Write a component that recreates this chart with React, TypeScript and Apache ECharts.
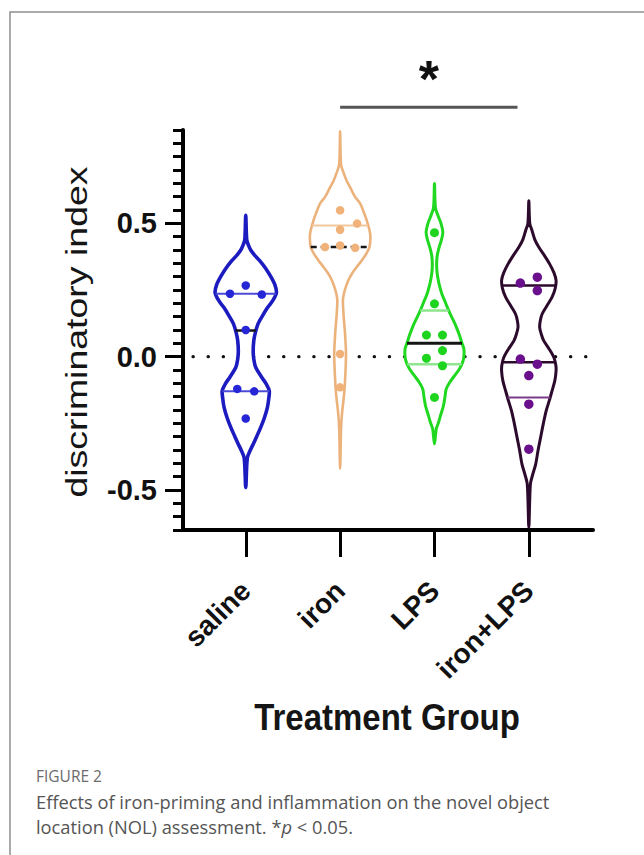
import React, { useEffect, useRef } from "react";
import * as echarts from "echarts";

// ---------------- data ----------------
const categories = ["saline", "iron", "LPS", "iron+LPS"];

// individual animals (discriminatory index) and their horizontal jitter (category units)
const salineValues = [0.267, 0.236, 0.233, 0.1, -0.121, -0.13, -0.232];
const salineJitter = [0, -0.167, 0.17, 0, -0.09, 0.09, 0];
const ironValues = [0.549, 0.499, 0.476, 0.417, 0.411, 0.408, 0.01, -0.115];
const ironJitter = [0, 0.18, 0, 0, -0.16, 0.16, 0, 0];
const lpsValues = [0.465, 0.198, 0.081, 0.081, 0.023, -0.006, -0.034, -0.153];
const lpsJitter = [0, 0, -0.085, 0.085, 0.085, -0.085, 0.085, 0];
const ironLpsValues = [0.298, 0.276, 0.248, -0.009, -0.028, -0.071, -0.178, -0.347];
const ironLpsJitter = [0.09, -0.09, 0.09, -0.09, 0.09, 0, 0, 0];

// quartiles drawn in each violin: [Q1, median, Q3] (null = not visible)
const salineQuartiles = [-0.13, 0.098, 0.236];
const ironQuartiles = [null, 0.411, 0.492];
const lpsQuartiles = [-0.028, 0.05, 0.173];
const ironLpsQuartiles = [-0.153, -0.021, 0.267];

// violin outlines: value levels and relative density (half width, 1 = widest)
const salineProfileY = [0.53, 0.44, 0.42, 0.4, 0.38, 0.36, 0.33, 0.3, 0.27, 0.24, 0.21, 0.185, 0.155, 0.124, 0.09, 0.06, 0.02, -0.01, -0.04, -0.078, -0.1, -0.128, -0.16, -0.19, -0.23, -0.266, -0.3, -0.328, -0.35, -0.38, -0.49];
const salineProfileW = [0, 0.03, 0.08, 0.16, 0.29, 0.45, 0.65, 0.81, 0.94, 0.99, 0.87, 0.71, 0.55, 0.4, 0.31, 0.26, 0.24, 0.26, 0.32, 0.52, 0.65, 0.76, 0.74, 0.7, 0.6, 0.48, 0.35, 0.24, 0.15, 0.05, 0];
const ironProfileY = [0.845, 0.72, 0.69, 0.66, 0.636, 0.6, 0.574, 0.54, 0.511, 0.461, 0.411, 0.385, 0.361, 0.335, 0.311, 0.285, 0.26, 0.235, 0.21, 0.16, 0.085, 0.01, -0.065, -0.14, -0.215, -0.27, -0.42];
const ironProfileW = [0, 0.03, 0.11, 0.21, 0.32, 0.48, 0.65, 0.77, 0.86, 0.97, 0.95, 0.84, 0.7, 0.53, 0.38, 0.26, 0.18, 0.12, 0.09, 0.11, 0.16, 0.19, 0.17, 0.13, 0.06, 0.03, 0];
const lpsProfileY = [0.649, 0.56, 0.53, 0.5, 0.467, 0.44, 0.41, 0.38, 0.35, 0.32, 0.295, 0.267, 0.235, 0.204, 0.17, 0.141, 0.11, 0.079, 0.05, 0.029, 0.0, -0.021, -0.045, -0.071, -0.095, -0.121, -0.15, -0.184, -0.215, -0.247, -0.27, -0.3, -0.327];
const lpsProfileW = [0, 0.03, 0.11, 0.21, 0.27, 0.23, 0.15, 0.09, 0.07, 0.08, 0.11, 0.16, 0.24, 0.35, 0.47, 0.59, 0.71, 0.81, 0.89, 0.95, 0.95, 0.91, 0.81, 0.65, 0.5, 0.38, 0.34, 0.29, 0.21, 0.13, 0.06, 0.03, 0];
const ironLpsProfileY = [0.585, 0.5, 0.474, 0.44, 0.411, 0.38, 0.348, 0.315, 0.286, 0.255, 0.223, 0.19, 0.16, 0.135, 0.11, 0.085, 0.06, 0.03, -0.003, -0.03, -0.053, -0.09, -0.128, -0.165, -0.203, -0.25, -0.303, -0.35, -0.404, -0.44, -0.479, -0.64];
const ironLpsProfileW = [0, 0.03, 0.1, 0.19, 0.32, 0.5, 0.67, 0.81, 0.88, 0.85, 0.75, 0.58, 0.43, 0.37, 0.35, 0.4, 0.48, 0.65, 0.81, 0.87, 0.88, 0.84, 0.75, 0.66, 0.56, 0.47, 0.38, 0.3, 0.22, 0.13, 0.05, 0];

// axis ticks and annotation
const yMajorTicks = [-0.5, 0, 0.5];
const yMinorTicks = Array.from({ length: 31 }, (_, k) => Math.round((-0.65 + k * 0.05) * 100) / 100);
const xTicks = [0, 1, 2, 3];
const zeroLine = [[-0.558, 3.68, 0]];
const sigBar = [[1, 2.88, 0.935, 1.043]]; // from, to, bar value, star value

// ---------------- styling ----------------
const MAXW = 0.328;
const groups = [
  { py: salineProfileY, pw: salineProfileW, vals: salineValues, jit: salineJitter, q: salineQuartiles,
    stroke: "#1b1bc0", lw: 3.6, dot: "#2626d6", dotSize: 8.5,
    qStyle: [{ c: "#4b4bd8", w: 2 }, { c: "#151515", w: 2.5 }, { c: "#4b4bd8", w: 2 }] },
  { py: ironProfileY, pw: ironProfileW, vals: ironValues, jit: ironJitter, q: ironQuartiles,
    stroke: "#ecb27c", lw: 2.6, dot: "#f1b27a", dotSize: 8.5,
    qStyle: [{ c: "#f2c79e", w: 2 }, { c: "#151515", w: 2.5, dash: [6, 4] }, { c: "#f2c79e", w: 2 }] },
  { py: lpsProfileY, pw: lpsProfileW, vals: lpsValues, jit: lpsJitter, q: lpsQuartiles,
    stroke: "#20d820", lw: 3, dot: "#1fd41f", dotSize: 9,
    qStyle: [{ c: "#8fe68f", w: 2.5 }, { c: "#151515", w: 3 }, { c: "#8fe68f", w: 2.5 }] },
  { py: ironLpsProfileY, pw: ironLpsProfileW, vals: ironLpsValues, jit: ironLpsJitter, q: ironLpsQuartiles,
    stroke: "#2c0a2c", lw: 3, dot: "#6a108c", dotSize: 9.5,
    qStyle: [{ c: "#7a3c8a", w: 2 }, { c: "#2c0a2c", w: 2.5 }, { c: "#2c0a2c", w: 2.5 }] },
];

function interpWidth(py: number[], pw: number[], v: number) {
  for (let j = 0; j < py.length - 1; j++) {
    if (v <= py[j] && v >= py[j + 1]) {
      const t = (py[j] - v) / (py[j] - py[j + 1]);
      return pw[j] + (pw[j + 1] - pw[j]) * t;
    }
  }
  return 0;
}

const FONT = "Liberation Sans, Arial, sans-serif";

function buildOption() {
  const violinSeries = {
    type: "custom",
    z: 3,
    clip: false,
    data: groups.map((_, i) => [i]),
    renderItem: (params: any, api: any) => {
      const i = params.dataIndex;
      const g = groups[i];
      const right = g.py.map((v, j) => api.coord([i + g.pw[j] * MAXW, v]));
      const left = g.py.map((v, j) => api.coord([i - g.pw[j] * MAXW, v])).reverse().slice(1, -1);
      const children: any[] = [
        {
          type: "polygon",
          shape: { points: right.concat(left), smooth: 0.3 },
          style: { fill: "#ffffff", stroke: g.stroke, lineWidth: g.lw, lineJoin: "round" },
        },
      ];
      g.q.forEach((qv: number | null, k: number) => {
        if (qv === null) return;
        const half = interpWidth(g.py, g.pw, qv) * MAXW;
        const a = api.coord([i - half, qv]);
        const b = api.coord([i + half, qv]);
        const st = g.qStyle[k] as any;
        children.push({
          type: "line",
          shape: { x1: a[0], y1: a[1], x2: b[0], y2: b[1] },
          style: { stroke: st.c, lineWidth: st.w, lineDash: st.dash || null },
        });
      });
      return { type: "group", children };
    },
  };

  const zeroSeries = {
    type: "custom",
    z: 1,
    clip: false,
    data: zeroLine,
    renderItem: (params: any, api: any) => {
      const a = api.coord([api.value(0), api.value(2)]);
      const b = api.coord([api.value(1), api.value(2)]);
      return {
        type: "line",
        shape: { x1: a[0], y1: a[1], x2: b[0], y2: b[1] },
        style: { stroke: "#111", lineWidth: 3.4, lineDash: [0.1, 15], lineCap: "round" },
      };
    },
  };

  const sigSeries = {
    type: "custom",
    z: 4,
    clip: false,
    data: sigBar,
    renderItem: (params: any, api: any) => {
      const a = api.coord([api.value(0), api.value(2)]);
      const b = api.coord([api.value(1), api.value(2)]);
      const s = api.coord([(api.value(0) + api.value(1)) / 2, api.value(3)]);
      return {
        type: "group",
        children: [
          { type: "line", shape: { x1: a[0], y1: a[1], x2: b[0], y2: b[1] }, style: { stroke: "#555", lineWidth: 3 } },
          {
            type: "text",
            x: s[0],
            y: s[1],
            style: { text: "*", fontSize: 52, fontWeight: "bold", fontFamily: FONT, fill: "#111", align: "center", verticalAlign: "middle" },
          },
        ],
      };
    },
  };

  const pointSeries = groups.map((g, i) => ({
    type: "scatter",
    z: 5,
    symbol: "circle",
    symbolSize: g.dotSize,
    itemStyle: { color: g.dot, opacity: 1 },
    data: g.vals.map((v, k) => [i + g.jit[k], v]),
  }));

  return {
    animation: false,
    backgroundColor: "#ffffff",
    grid: { left: 183, right: 51, top: 130, bottom: 325, containLabel: false, outerBoundsMode: "none" },
    xAxis: {
      type: "value",
      min: -0.665,
      max: 3.68,
      axisLine: { show: true, onZero: false, lineStyle: { color: "#000", width: 4 } },
      axisTick: { show: true, customValues: xTicks, length: 27, lineStyle: { color: "#000", width: 3 } },
      axisLabel: {
        customValues: xTicks,
        formatter: (v: number) => categories[Math.round(v)] ?? "",
        rotate: 45,
        margin: 56,
        fontSize: 28,
        fontWeight: "bold",
        fontFamily: FONT,
        color: "#111",
      },
      splitLine: { show: false },
    },
    yAxis: [
      {
        type: "value",
        position: "left",
        min: -0.65,
        max: 0.85,
        axisLine: { show: true, onZero: false, lineStyle: { color: "#000", width: 4 } },
        axisTick: { show: true, customValues: yMajorTicks, length: 18, lineStyle: { color: "#000", width: 3 } },
        axisLabel: {
          customValues: yMajorTicks,
          formatter: (v: number) => v.toFixed(1),
          margin: 26,
          fontSize: 29,
          fontWeight: "bold",
          fontFamily: FONT,
          color: "#111",
        },
        splitLine: { show: false },
      },
      {
        type: "value",
        position: "left",
        offset: 0,
        min: -0.65,
        max: 0.85,
        axisLine: { show: false, onZero: false },
        axisTick: { show: true, customValues: yMinorTicks, length: 10, lineStyle: { color: "#000", width: 3 } },
        axisLabel: { show: false },
        splitLine: { show: false },
      },
    ],
    series: [zeroSeries, violinSeries, sigSeries, ...pointSeries],
    graphic: [
      {
        type: "polyline",
        shape: { points: [[10, 855], [10, 12], [644, 12]] },
        style: { stroke: "#8f8f8f", lineWidth: 1.5, fill: "none" },
      },
      {
        type: "text",
        x: 76,
        y: 332,
        rotation: Math.PI / 2,
        scaleX: 1.25,
        style: { text: "discriminatory index", fontSize: 30, fontFamily: FONT, fill: "#151515", align: "center", verticalAlign: "middle" },
      },
      {
        type: "text",
        x: 387,
        y: 717,
        scaleY: 1.12,
        style: { text: "Treatment Group", fontSize: 33, fontWeight: "bold", fontFamily: FONT, fill: "#151515", align: "center", verticalAlign: "middle" },
      },
      {
        type: "text",
        x: 36,
        y: 776,
        style: { text: "FIGURE 2", fontSize: 15.5, fontFamily: "Open Sans", fill: "#6b6b6b", align: "left", verticalAlign: "middle" },
      },
      {
        type: "text",
        x: 36,
        y: 801,
        style: { text: "Effects of iron-priming and inflammation on the novel object", fontSize: 18.3, fontFamily: "Open Sans", fill: "#555", align: "left", verticalAlign: "middle" },
      },
      {
        type: "text",
        x: 36,
        y: 826,
        style: {
          text: "location (NOL) assessment. *{it|p} < 0.05.",
          fontSize: 18.3,
          fontFamily: "Open Sans",
          fill: "#555",
          align: "left",
          verticalAlign: "middle",
          rich: { it: { fontStyle: "italic", fontSize: 18.3, fontFamily: "Open Sans", fill: "#555" } },
        },
      },
    ],
  };
}

export default function App() {
  const ref = useRef<HTMLDivElement>(null);
  useEffect(() => {
    if (!ref.current) return;
    const chart = echarts.init(ref.current, null, { renderer: "svg" });
    chart.setOption(buildOption() as any);
    return () => chart.dispose();
  }, []);
  return (
    <div
      ref={ref}
      style={{ position: "absolute", left: 0, top: 0, width: 644, height: 855, background: "#fff" }}
    />
  );
}
